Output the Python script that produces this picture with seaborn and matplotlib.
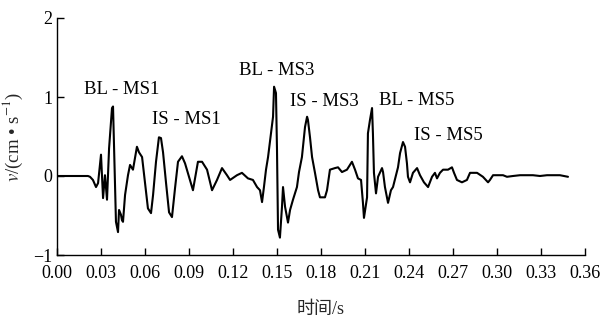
import numpy as np
import pandas as pd
import matplotlib
matplotlib.use("Agg")
import matplotlib.pyplot as plt
import seaborn as sns

# Waveform (time in s, velocity in cm/s)
time_s = [0.0, 0.0211, 0.0225, 0.0245, 0.0266, 0.0280, 0.0300, 0.0314, 0.0327, 0.0341,
          0.0355, 0.0375, 0.0382, 0.0389, 0.0402, 0.0416, 0.0423, 0.0436, 0.0443, 0.0450,
          0.0464, 0.0484, 0.0498, 0.0518, 0.0532, 0.0545, 0.0559, 0.0580, 0.0600, 0.0620,
          0.0641, 0.0655, 0.0675, 0.0695, 0.0709, 0.0723, 0.0743, 0.0764, 0.0784, 0.0805,
          0.0825, 0.0852, 0.0873, 0.0927, 0.0961, 0.0989, 0.1023, 0.1057, 0.1091, 0.1125,
          0.1159, 0.1180, 0.1227, 0.1261, 0.1302, 0.1336, 0.1364, 0.1384, 0.1398, 0.1411,
          0.1425, 0.1439, 0.1459, 0.1473, 0.1480, 0.1493, 0.1500, 0.1507, 0.1520, 0.1534,
          0.1541, 0.1555, 0.1575, 0.1589, 0.1609, 0.1636, 0.1650, 0.1670, 0.1677, 0.1691,
          0.1705, 0.1711, 0.1725, 0.1739, 0.1759, 0.1780, 0.1793, 0.1827, 0.1841, 0.1861,
          0.1895, 0.1916, 0.1943, 0.1977, 0.2011, 0.2032, 0.2052, 0.2073, 0.2086, 0.2093,
          0.2114, 0.2120, 0.2134, 0.2148, 0.2154, 0.2161, 0.2175, 0.2189, 0.2216, 0.2223,
          0.2236, 0.2257, 0.2277, 0.2291, 0.2325, 0.2339, 0.2359, 0.2373, 0.2386, 0.2393,
          0.2407, 0.2427, 0.2455, 0.2475, 0.2502, 0.2530, 0.2557, 0.2577, 0.2591, 0.2611,
          0.2632, 0.2666, 0.2693, 0.2707, 0.2727, 0.2761, 0.2795, 0.2816, 0.2864, 0.2904,
          0.2939, 0.2952, 0.2973, 0.3041, 0.3068, 0.3109, 0.3157, 0.3204, 0.3245, 0.3293,
          0.3341, 0.3382, 0.3429, 0.3484]
velocity = [0.0, 0.0, -0.01, -0.05, -0.14, -0.09, 0.27, -0.28, 0.01, -0.30,
            0.35, 0.86, 0.88, 0.35, -0.58, -0.71, -0.43, -0.49, -0.56, -0.58,
            -0.24, 0.01, 0.14, 0.08, 0.23, 0.37, 0.30, 0.24, -0.08, -0.41,
            -0.47, -0.24, 0.18, 0.49, 0.48, 0.30, -0.08, -0.46, -0.52, -0.15,
            0.18, 0.25, 0.16, -0.18, 0.18, 0.18, 0.08, -0.18, -0.05, 0.10,
            0.01, -0.05, 0.01, 0.04, -0.03, -0.05, -0.14, -0.18, -0.33, -0.14,
            0.08, 0.24, 0.54, 0.75, 1.13, 1.05, 0.33, -0.68, -0.78, -0.39,
            -0.14, -0.39, -0.59, -0.43, -0.30, -0.14, 0.05, 0.24, 0.37, 0.62,
            0.75, 0.71, 0.49, 0.24, 0.04, -0.18, -0.27, -0.27, -0.18, 0.08,
            0.10, 0.11, 0.05, 0.08, 0.18, 0.08, -0.03, -0.05, -0.34, -0.53,
            -0.27, 0.54, 0.71, 0.86, 0.54, 0.04, -0.22, -0.01, 0.10, 0.05,
            -0.14, -0.34, -0.18, -0.14, 0.11, 0.29, 0.43, 0.37, 0.16, -0.01,
            -0.08, 0.04, 0.10, 0.01, -0.08, -0.14, -0.01, 0.04, -0.03, 0.04,
            0.08, 0.08, 0.11, 0.04, -0.05, -0.08, -0.05, 0.04, 0.04, -0.01,
            -0.08, -0.05, 0.01, 0.01, -0.01, 0.0, 0.01, 0.01, 0.01, 0.0,
            0.01, 0.01, 0.01, -0.01]

labels = ["BL - MS1", "IS - MS1", "BL - MS3", "IS - MS3", "BL - MS5", "IS - MS5"]
label_t = [0.0184, 0.0648, 0.1241, 0.1589, 0.2195, 0.2434]
label_v = [1.10, 0.71, 1.34, 0.94, 0.96, 0.51]

xticks = [0.00, 0.03, 0.06, 0.09, 0.12, 0.15, 0.18, 0.21, 0.24, 0.27, 0.30, 0.33, 0.36]
yticks = [-1, 0, 1, 2]

sns.set_style("ticks")
plt.rcParams["font.family"] = ["Liberation Serif", "Noto Sans CJK SC"]
plt.rcParams["mathtext.fontset"] = "stix"
plt.rcParams["axes.unicode_minus"] = True

df = pd.DataFrame({"t": time_s, "v": velocity})

fig = plt.figure(figsize=(6.01, 3.20), dpi=100)
ax = fig.add_axes([57 / 601, 1 - 255 / 320, (585 - 57) / 601, (255 - 18) / 320])
sns.lineplot(data=df, x="t", y="v", ax=ax, color="black", linewidth=1.5,
             sort=False, estimator=None)

ax.set_xlim(0, 0.36)
ax.set_ylim(-1, 2)
ax.set_xticks(xticks)
ax.set_xticklabels([f"{x:.2f}" for x in xticks])
ax.set_yticks(yticks)
ax.set_yticklabels(["\u22121", "0", "1", "2"])
ax.tick_params(direction="in", length=5, width=1, labelsize=13, colors="black")
ax.tick_params(axis="x", pad=7)
sns.despine(ax=ax)
for s in ("left", "bottom"):
    ax.spines[s].set_color("black")
    ax.spines[s].set_linewidth(1.0)

ax.set_xlabel("时间/s", fontsize=13, labelpad=14)
ax.set_ylabel(r"$\mathit{v}$/(cm • s$^{-1}$)", fontsize=13.5, labelpad=6)

for lab, tx, vy in zip(labels, label_t, label_v):
    ax.text(tx, vy, lab, fontsize=13.5, ha="left", va="center", color="black")

fig.savefig("out.png", dpi=100)
